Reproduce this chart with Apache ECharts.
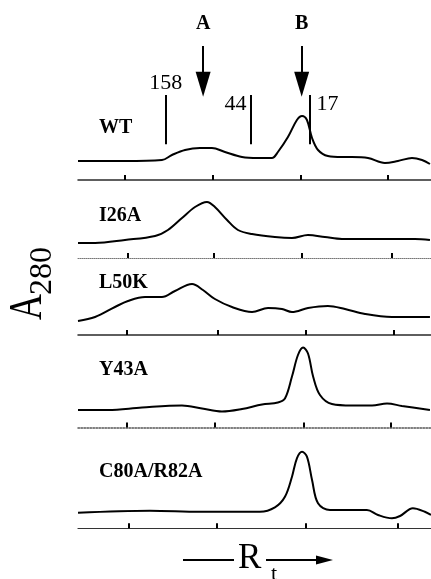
<!DOCTYPE html>
<html><head><meta charset="utf-8">
<script src="https://cdn.jsdelivr.net/npm/echarts@6/dist/echarts.min.js"></script>
<style>html,body{margin:0;padding:0;background:#fff}#c{width:431px;height:579px}</style>
</head><body><div id="c"></div><script>
// ---- data (retention, arbitrary units; absorbance A280, arbitrary units) ----
const panels = ['WT', 'I26A', 'L50K', 'Y43A', 'C80A/R82A'];

const wtRt  = [7.27, 9.94, 12.04, 12.61, 13.35, 14.20, 14.88, 15.62, 16.59, 17.50, 18.29, 18.63, 19.20, 19.71, 20.00, 20.28, 20.57, 20.91, 21.47, 22.27, 22.84, 23.75, 24.71, 25.45, 26.25, 26.82, 27.27];
const wtA   = [0.19, 0.19, 0.20, 0.25, 0.30, 0.32, 0.32, 0.28, 0.23, 0.22, 0.22, 0.28, 0.43, 0.60, 0.64, 0.60, 0.42, 0.30, 0.24, 0.23, 0.23, 0.22, 0.17, 0.19, 0.22, 0.20, 0.16];

const i26Rt = [7.27, 8.24, 9.94, 11.65, 12.38, 13.18, 13.92, 14.60, 15.05, 15.74, 16.36, 17.16, 18.46, 19.43, 20.34, 21.30, 22.27, 24.15, 25.28, 26.42, 27.27];
const i26A  = [0.15, 0.15, 0.18, 0.22, 0.28, 0.40, 0.51, 0.56, 0.51, 0.38, 0.28, 0.24, 0.21, 0.20, 0.23, 0.21, 0.19, 0.19, 0.19, 0.19, 0.18];

const l50Rt = [7.27, 8.24, 9.37, 10.11, 11.08, 12.04, 12.78, 13.75, 14.37, 15.05, 16.02, 17.16, 18.07, 18.86, 19.43, 20.34, 21.47, 22.44, 23.58, 25.11, 27.27];
const l50A  = [0.14, 0.18, 0.28, 0.34, 0.38, 0.38, 0.44, 0.51, 0.45, 0.36, 0.28, 0.23, 0.27, 0.26, 0.23, 0.27, 0.29, 0.26, 0.21, 0.18, 0.18];

const y43Rt = [7.27, 8.98, 10.91, 13.18, 14.32, 15.45, 16.59, 17.73, 18.63, 19.03, 19.43, 19.77, 20.06, 20.34, 20.63, 21.02, 21.70, 22.84, 23.98, 24.83, 25.68, 27.27];
const y43A  = [0.175, 0.175, 0.20, 0.22, 0.19, 0.16, 0.185, 0.23, 0.25, 0.29, 0.51, 0.725, 0.80, 0.74, 0.51, 0.325, 0.235, 0.22, 0.22, 0.24, 0.215, 0.175];

const c80Rt = [7.27, 11.36, 14.20, 17.61, 18.46, 19.03, 19.43, 19.71, 20.00, 20.28, 20.57, 20.91, 21.59, 22.72, 23.69, 24.32, 25.11, 25.57, 26.30, 26.98, 27.33];
const c80A  = [0.156, 0.176, 0.166, 0.166, 0.21, 0.316, 0.516, 0.70, 0.766, 0.716, 0.483, 0.25, 0.183, 0.183, 0.183, 0.133, 0.10, 0.123, 0.20, 0.166, 0.133];

// tick positions on each panel's retention axis
const tickWT  = [9.94, 14.93, 19.94, 24.88];
const tickI26 = [10.09, 15.01, 20.01, 25.09];
const tickL50 = [10.04, 15.24, 20.22, 25.19];
const tickY43 = [10.04, 15.05, 20.09, 25.05];
const tickC80 = [10.13, 15.15, 20.22, 25.44];

// size standards (kDa) and peak markers
const markerLabels = ['158', '44', '17'];
const markerRt     = [12.25, 17.10, 20.45];
const peakLabels   = ['A', 'B'];
const peakRt       = [14.38, 19.98];

// ---- layout ----
const rtMin = 7.27, rtMax = 27.33;
const H = 579, pxPerUnit = 100;
const axisY  = [180, 258, 335, 427.5, 528.3];
const gridTop = [10, 158, 235, 327.5, 428.3];
const labelY = [127.5, 216, 283, 370, 472];
const axisStyle = [
  {color: '#2a2a2a', width: 1.5, type: 'solid'},
  {color: '#777', width: 1, type: 'dotted'},
  {color: '#2a2a2a', width: 1.5, type: 'solid'},
  {color: '#555', width: 1.5, type: 'dotted'},
  {color: '#333', width: 1.2, type: 'solid'}
];
const rts = [wtRt, i26Rt, l50Rt, y43Rt, c80Rt];
const abs = [wtA, i26A, l50A, y43A, c80A];
const ticks = [tickWT, tickI26, tickL50, tickY43, tickC80];
const SERIF = '"Liberation Serif", "Times New Roman", serif';

const grids = [], xAxes = [], yAxes = [], series = [];
panels.forEach((name, i) => {
  grids.push({left: 78, right: 0, top: gridTop[i], bottom: H - axisY[i], containLabel: false});
  xAxes.push({
    type: 'value', gridIndex: i, min: rtMin, max: rtMax,
    axisLine: {show: true, onZero: false, lineStyle: axisStyle[i]},
    axisTick: {show: true, inside: true, length: 5, customValues: ticks[i], lineStyle: {color: '#000', width: 2}},
    axisLabel: {show: false}, splitLine: {show: false}
  });
  yAxes.push({type: 'value', gridIndex: i, min: 0, max: (axisY[i] - gridTop[i]) / pxPerUnit, show: false});
  const s = {
    name: name, type: 'line', xAxisIndex: i, yAxisIndex: i,
    data: rts[i].map((x, k) => [x, abs[i][k]]),
    showSymbol: false, symbol: 'none', smooth: 0.35, clip: false, silent: true,
    lineStyle: {color: '#000', width: 2}
  };
  if (i === 0) {
    const markLo = 0.357, markHi = 0.85, arrowTop = 1.34, arrowEnd = 0.958;
    s.markLine = {
      silent: true, animation: false, symbol: ['none', 'none'],
      lineStyle: {color: '#000', width: 2, type: 'solid'},
      label: {show: false},
      data: markerRt.map(x => [{coord: [x, markLo]}, {coord: [x, markHi]}]).concat(
        peakRt.map(x => [{coord: [x, arrowTop]}, {coord: [x, arrowEnd], symbol: 'triangle', symbolSize: [15, 25]}]))
    };
    const numFont = {color: '#000', fontFamily: SERIF, fontSize: 22};
    s.markPoint = {
      silent: true, animation: false, symbol: 'circle', symbolSize: 1,
      itemStyle: {color: 'rgba(0,0,0,0)'},
      data: [
        {coord: [markerRt[0], markHi], label: Object.assign({show: true, position: 'top', distance: 0, formatter: markerLabels[0]}, numFont)},
        {coord: [markerRt[1], 0.76], label: Object.assign({show: true, position: 'left', distance: 4, formatter: markerLabels[1]}, numFont)},
        {coord: [markerRt[2], 0.76], label: Object.assign({show: true, position: 'right', distance: 6, formatter: markerLabels[2]}, numFont)}
      ].concat(peakRt.map((x, k) => ({
        coord: [x, arrowTop],
        label: {show: true, position: 'top', distance: 12, formatter: peakLabels[k], color: '#000', fontFamily: SERIF, fontSize: 20, fontWeight: 'bold'}
      })))
    };
  }
  series.push(s);
});

const graphic = panels.map((name, i) => ({
  type: 'text', x: 99, y: labelY[i], silent: true,
  style: {text: name, font: 'bold 20px ' + SERIF, fill: '#000', verticalAlign: 'middle', align: 'left'}
}));
// y-axis title A280 (rotated)
graphic.push({
  type: 'group', x: 0, y: 320, rotation: Math.PI / 2, silent: true,
  children: [
    {type: 'text', x: 0, y: 29, scaleX: 0.78, style: {text: 'A', font: '46px ' + SERIF, fill: '#000', align: 'left', verticalAlign: 'middle'}},
    {type: 'text', x: 25, y: 43, style: {text: '280', font: '32px ' + SERIF, fill: '#000', align: 'left', verticalAlign: 'middle'}}
  ]
});
// x-axis title  — Rt —>
graphic.push(
  {type: 'line', silent: true, shape: {x1: 183, y1: 560, x2: 234, y2: 560}, style: {stroke: '#000', lineWidth: 2}},
  {type: 'text', x: 238, y: 559, silent: true, style: {text: 'R', font: '35px ' + SERIF, fill: '#000', align: 'left', verticalAlign: 'middle'}},
  {type: 'text', x: 271, y: 574, silent: true, style: {text: 't', font: '22px ' + SERIF, fill: '#000', align: 'left', verticalAlign: 'middle'}},
  {type: 'line', silent: true, shape: {x1: 266, y1: 560, x2: 318, y2: 560}, style: {stroke: '#000', lineWidth: 2}},
  {type: 'polygon', silent: true, shape: {points: [[316, 555.5], [333, 560], [316, 564.5]]}, style: {fill: '#000'}}
);

const chart = echarts.init(document.getElementById('c'), null, {renderer: 'canvas'});
chart.setOption({
  animation: false,
  backgroundColor: '#fff',
  grid: grids, xAxis: xAxes, yAxis: yAxes, series: series,
  graphic: graphic
});
</script></body></html>
